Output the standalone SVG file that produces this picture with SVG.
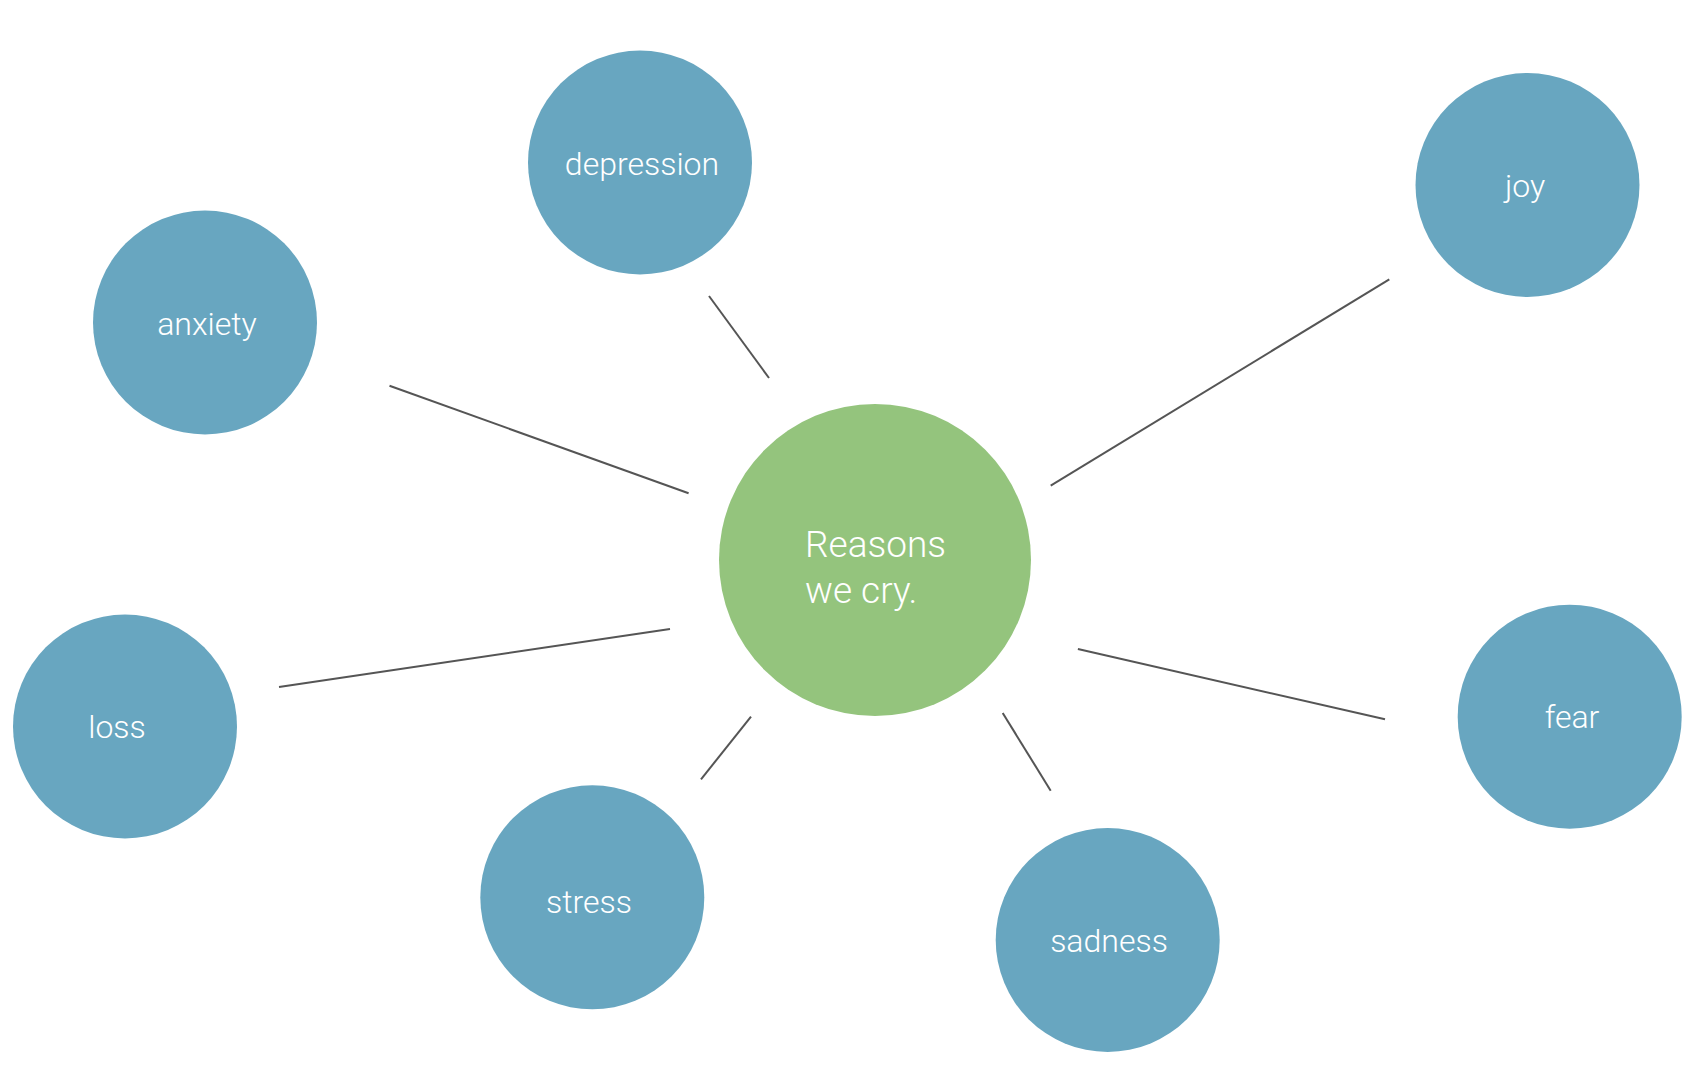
<svg xmlns="http://www.w3.org/2000/svg" width="1700" height="1092" viewBox="0 0 1700 1092">
  <style>
    .bg { fill: #ffffff; }
    .node { fill: #68a6c0; }
    .hub { fill: #94c47d; }
    .lbl { font-family: Roboto, "Liberation Sans", Arial, sans-serif; font-size: 32px; fill: #ffffff; text-anchor: middle; font-weight: 300; }
    .hubtxt { font-family: Roboto, "Liberation Sans", Arial, sans-serif; font-size: 37px; fill: #ffffff; font-weight: 300; }
    .edge { stroke: #555555; stroke-width: 2; fill: none; }
  </style>
  <rect class="bg" x="0" y="0" width="1700" height="1092"/>
  <g id="connectors">
    <line class="edge" x1="709" y1="296" x2="769" y2="378"/>
    <line class="edge" x1="389.5" y1="385.7" x2="688.6" y2="493.3"/>
    <line class="edge" x1="1050.7" y1="485.7" x2="1389.3" y2="279.3"/>
    <line class="edge" x1="279" y1="687" x2="670" y2="629"/>
    <line class="edge" x1="751" y1="716.7" x2="701" y2="779.3"/>
    <line class="edge" x1="1002.7" y1="713" x2="1050.7" y2="790.7"/>
    <line class="edge" x1="1077.9" y1="649" x2="1385" y2="719.3"/>
  </g>
  <g id="node-center">
    <circle class="hub" cx="875" cy="560" r="156"/>
    <text class="hubtxt" x="805" y="557">Reasons</text>
    <text class="hubtxt" x="805" y="603">we cry.</text>
  </g>
  <g id="node-depression">
    <circle class="node" cx="640" cy="162.5" r="112"/>
    <text class="lbl" x="642" y="175">depression</text>
  </g>
  <g id="node-anxiety">
    <circle class="node" cx="205" cy="322.5" r="112"/>
    <text class="lbl" x="207" y="335">anxiety</text>
  </g>
  <g id="node-joy">
    <circle class="node" cx="1527.5" cy="185" r="112"/>
    <text class="lbl" x="1525" y="197">joy</text>
  </g>
  <g id="node-loss">
    <circle class="node" cx="125" cy="726.5" r="112"/>
    <text class="lbl" x="117" y="738">loss</text>
  </g>
  <g id="node-stress">
    <circle class="node" cx="592.3" cy="897.3" r="112"/>
    <text class="lbl" x="589" y="913">stress</text>
  </g>
  <g id="node-sadness">
    <circle class="node" cx="1107.7" cy="940" r="112"/>
    <text class="lbl" x="1109" y="952">sadness</text>
  </g>
  <g id="node-fear">
    <circle class="node" cx="1569.7" cy="716.7" r="112"/>
    <text class="lbl" x="1572" y="728">fear</text>
  </g>
</svg>
